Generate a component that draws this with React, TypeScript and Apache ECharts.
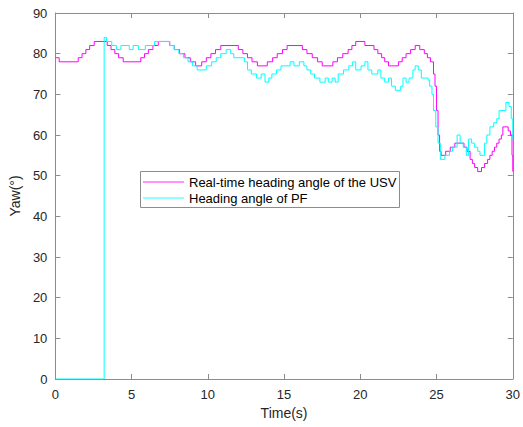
import React, { useEffect, useRef } from "react";
import * as echarts from "echarts";

const usvTime = [0, 0.25, 1.5, 1.75, 2.0, 2.25, 2.55, 3.4, 3.65, 3.9, 4.15, 4.45, 5.6, 5.85, 6.1, 6.4, 6.75, 7.5, 7.8, 8.15, 8.5, 8.85, 9.2, 9.6, 9.9, 10.2, 10.5, 10.85, 12.0, 12.3, 12.6, 12.9, 13.25, 13.9, 14.25, 14.55, 14.9, 15.2, 16.2, 16.5, 16.85, 17.2, 17.5, 18.2, 18.5, 18.85, 19.2, 19.45, 19.7, 20.3, 20.9, 21.15, 21.4, 21.6, 21.85, 22.5, 22.75, 23.0, 23.3, 23.6, 23.9, 24.2, 24.4, 24.6, 24.8, 24.9, 25.0, 25.1, 25.2, 25.3, 25.6, 25.9, 26.2, 26.8, 27.0, 27.2, 27.35, 27.5, 27.7, 27.95, 28.15, 28.35, 28.5, 28.65, 28.8, 28.95, 29.1, 29.25, 29.35, 29.7, 29.85, 29.95, 30];
const usvYaw = [79, 78, 79, 80, 81, 82, 83, 82, 81, 80, 79, 78, 79, 80, 81, 82, 83, 82, 81, 80, 79, 78, 77, 78, 79, 80, 81, 82, 81, 80, 79, 78, 77, 78, 79, 80, 81, 82, 81, 80, 79, 78, 77, 78, 79, 80, 81, 82, 83, 82, 81, 80, 79, 78, 77, 78, 79, 80, 81, 82, 81, 80, 79, 78, 75, 72, 66, 60, 56, 55, 56, 57, 58, 57, 56, 54, 53, 52, 51, 52, 53, 54, 55, 56, 57, 58, 59, 60, 62, 61, 60, 55, 51];

const pfTime = [0, 3.2, 3.35, 3.7, 4.0, 4.3, 4.85, 5.1, 5.45, 5.9, 6.5, 7.5, 7.8, 8.1, 8.4, 8.7, 9.0, 9.3, 9.9, 10.25, 10.55, 10.85, 11.2, 11.5, 11.7, 12.4, 12.6, 12.85, 13.2, 13.5, 13.75, 14.0, 14.2, 14.5, 14.8, 15.4, 15.65, 16.0, 16.3, 16.5, 16.75, 17.0, 17.35, 17.7, 17.9, 18.15, 18.35, 18.55, 18.9, 19.25, 19.5, 19.7, 20.05, 20.3, 20.5, 20.75, 21.15, 21.35, 21.6, 21.85, 22.05, 22.3, 22.65, 22.8, 23.0, 23.2, 23.45, 23.6, 23.8, 24.0, 24.45, 24.55, 24.7, 24.8, 24.95, 25.1, 25.25, 25.55, 25.85, 26.05, 26.35, 26.55, 26.75, 26.95, 27.1, 27.3, 27.5, 27.7, 27.85, 28.15, 28.3, 28.5, 28.75, 28.95, 29.1, 29.55, 29.75, 29.9, 30];
const pfYaw = [0, 84, 83, 82, 81, 82, 81, 82, 81, 82, 83, 82, 81, 80, 79, 78, 77, 76, 77, 78, 79, 80, 81, 80, 79, 78, 76, 75, 74, 75, 73, 74, 75, 76, 77, 78, 77, 78, 77, 76, 75, 74, 73, 74, 73, 74, 73, 75, 76, 77, 78, 76, 77, 78, 76, 75, 76, 74, 73, 74, 72, 71, 72, 74, 73, 74, 76, 77, 76, 74, 73.5, 72, 70, 66, 62, 58, 54, 55, 56, 57, 60, 58, 57, 55, 59, 58, 57, 56, 55, 58, 60, 62, 63, 64, 66, 68, 67, 64, 59];

const xTicks = [0, 5, 10, 15, 20, 25, 30];
const yTicks = [0, 10, 20, 30, 40, 50, 60, 70, 80, 90];

const seriesNames = ["Real-time heading angle of the USV", "Heading angle of PF"];
const seriesColors = ["#ff00ff", "#00ffff"];

export default function App() {
  const ref = useRef<HTMLDivElement>(null);
  useEffect(() => {
    if (!ref.current) return;
    const chart = echarts.init(ref.current, null, { renderer: "svg" });
    const axisColor = "#8c8c8c";
    const labelColor = "#262626";
    const font = "'Liberation Sans', Arial, sans-serif";
    const xCommon = {
      type: "value" as const,
      min: xTicks[0],
      max: xTicks[xTicks.length - 1],
      interval: 5,
      splitLine: { show: false },
      axisLine: { show: true, onZero: false, lineStyle: { color: axisColor, width: 1 } },
      axisTick: { show: true, inside: true, length: 5, lineStyle: { color: axisColor } },
    };
    const yCommon = {
      type: "value" as const,
      min: yTicks[0],
      max: yTicks[yTicks.length - 1],
      interval: 10,
      splitLine: { show: false },
      axisLine: { show: true, onZero: false, lineStyle: { color: axisColor, width: 1 } },
      axisTick: { show: true, inside: true, length: 5, lineStyle: { color: axisColor } },
    };
    const legendRowY = [182, 198];
    chart.setOption({
      animation: false,
      backgroundColor: "#ffffff",
      textStyle: { fontFamily: font },
      grid: { left: 51, right: 8, top: 13, bottom: 48, containLabel: false },
      graphic: [
        {
          type: "rect",
          shape: { x: 140.5, y: 171.5, width: 259, height: 36 },
          style: { fill: "#ffffff", stroke: "#8c8c8c", lineWidth: 1 },
          z: 100,
        },
        ...seriesNames.flatMap((n, i) => [
          {
            type: "line",
            shape: { x1: 143, y1: legendRowY[i], x2: 184, y2: legendRowY[i] },
            style: { stroke: seriesColors[i], lineWidth: 1.2, opacity: 0.85 },
            z: 101,
          },
          {
            type: "text",
            x: 189,
            y: legendRowY[i],
            style: {
              text: n,
              fill: "#000000",
              font: `13px ${font}`,
              textVerticalAlign: "middle",
              verticalAlign: "middle",
            },
            z: 101,
          },
        ]),
      ],
      xAxis: [
        {
          ...xCommon,
          position: "bottom",
          name: "Time(s)",
          nameLocation: "middle",
          nameGap: 27,
          nameTextStyle: { fontSize: 14, color: labelColor, fontFamily: font },
          axisLabel: { fontSize: 13, color: labelColor, margin: 9, fontFamily: font },
        },
        { ...xCommon, position: "top", axisLabel: { show: false } },
      ],
      yAxis: [
        {
          ...yCommon,
          position: "left",
          name: "Yaw(°)",
          nameLocation: "middle",
          nameGap: 30,
          nameTextStyle: { fontSize: 14, color: labelColor, fontFamily: font },
          axisLabel: { fontSize: 13, color: labelColor, margin: 8, fontFamily: font },
        },
        { ...yCommon, position: "right", axisLabel: { show: false } },
      ],
      series: [
        {
          name: seriesNames[0],
          type: "line",
          step: "end",
          symbol: "none",
          lineStyle: { color: seriesColors[0], width: 1 },
          itemStyle: { color: seriesColors[0] },
          data: usvTime.map((t, i) => [t, usvYaw[i]]),
          z: 2,
        },
        {
          name: seriesNames[1],
          type: "line",
          step: "end",
          symbol: "none",
          lineStyle: { color: seriesColors[1], width: 1 },
          itemStyle: { color: seriesColors[1] },
          data: pfTime.map((t, i) => [t, pfYaw[i]]),
          z: 3,
        },
      ],
    });
    return () => chart.dispose();
  }, []);
  return <div ref={ref} style={{ width: 523, height: 427, position: "absolute", left: 0, top: 0 }} />;
}
